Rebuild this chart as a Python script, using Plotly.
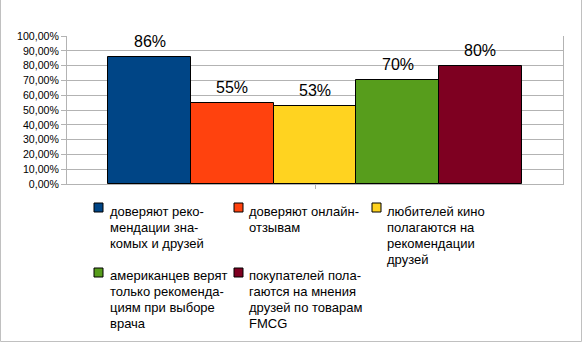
import plotly.graph_objects as go

# Survey shares: trust in recommendations
categories = [
    "доверяют реко-\nмендации зна-\nкомых и друзей",
    "доверяют онлайн-\nотзывам",
    "любителей кино\nполагаются на\nрекомендации\nдрузей",
    "американцев верят\nтолько рекоменда-\nциям при выборе\nврача",
    "покупателей пола-\nгаются на мнения\nдрузей по товарам\nFMCG",
]
values = [0.86, 0.55, 0.53, 0.70, 0.80]
value_labels = ["86%", "55%", "53%", "70%", "80%"]
colors = ["#004586", "#ff420e", "#ffd320", "#579d1c", "#7e0021"]

W, H = 582, 342
L, R, T, B = 67, 563, 36, 184  # plot area in pixels

FONT = "Liberation Sans, Arial, sans-serif"
GRID = "#b3b3b3"


def px_x(p):
    return (p - L) / (R - L)


def px_y(p):
    return (B - p) / (B - T)


x_idx = list(range(len(values)))

fig = go.Figure(
    go.Bar(
        x=x_idx,
        y=values,
        width=1,
        marker=dict(color=colors, line=dict(color="#000000", width=1)),
        showlegend=False,
        hoverinfo="skip",
    )
)

annotations = []
# value labels above bars
for xi, v, lab in zip(x_idx, values, value_labels):
    annotations.append(dict(
        x=xi, y=v, xref="x", yref="y", text=lab, showarrow=False,
        yanchor="bottom", xanchor="center", yshift=6, borderpad=0,
        font=dict(family=FONT, size=16, color="#000000"),
    ))

# legend laid out in a 3-column grid below the plot
col_sq = [94, 234, 372]
col_tx = [109, 248, 386]
row_sq = [203, 268]
row_base = [215, 279]
line_pitch = 16
shapes = []
for i, (cat, col) in enumerate(zip(categories, colors)):
    c, r = i % 3, i // 3
    sx, sy = col_sq[c], row_sq[r]
    shapes.append(dict(
        type="rect", xref="paper", yref="paper",
        x0=px_x(sx), x1=px_x(sx + 9), y0=px_y(sy), y1=px_y(sy + 9),
        fillcolor=col, line=dict(color="#000000", width=1),
    ))
    for k, line in enumerate(cat.split("\n")):
        base = row_base[r] + k * line_pitch
        annotations.append(dict(
            x=px_x(col_tx[c]), y=px_y(base - 12), xref="paper", yref="paper",
            text=line, showarrow=False, xanchor="left", yanchor="top",
            borderpad=0, align="left",
            font=dict(family=FONT, size=13, color="#000000"),
        ))

# outer frame (left, bottom, right)
frame = dict(color="#c0c0c0", width=1)
shapes += [
    dict(type="line", xref="paper", yref="paper", x0=px_x(0.5), x1=px_x(0.5),
         y0=px_y(0), y1=px_y(341.5), line=frame),
    dict(type="line", xref="paper", yref="paper", x0=px_x(0.5), x1=px_x(581.5),
         y0=px_y(341.5), y1=px_y(341.5), line=frame),
    dict(type="line", xref="paper", yref="paper", x0=px_x(581.5), x1=px_x(581.5),
         y0=px_y(0), y1=px_y(341.5), line=frame),
]

fig.update_layout(
    width=W, height=H,
    margin=dict(l=L, r=W - R, t=T, b=H - B, pad=0),
    paper_bgcolor="#ffffff", plot_bgcolor="#ffffff",
    separators=", ",
    font=dict(family=FONT, color="#000000"),
    bargap=0,
    annotations=annotations,
    shapes=shapes,
    xaxis=dict(
        range=[-1, 5], showgrid=False, zeroline=False,
        showline=True, linecolor=GRID, linewidth=1,
        tickvals=[2], ticktext=[""], ticks="outside", ticklen=4,
        tickcolor=GRID, showticklabels=False, fixedrange=True,
    ),
    yaxis=dict(
        range=[0, 1], dtick=0.1, tickformat=".2%",
        showgrid=True, gridcolor=GRID, gridwidth=1, zeroline=False,
        showline=True, linecolor=GRID, linewidth=1, mirror=True,
        ticks="outside", ticklen=5, tickcolor=GRID,
        tickfont=dict(family=FONT, size=10.6, color="#000000"),
        fixedrange=True,
    ),
)

fig.write_html("out.html")
